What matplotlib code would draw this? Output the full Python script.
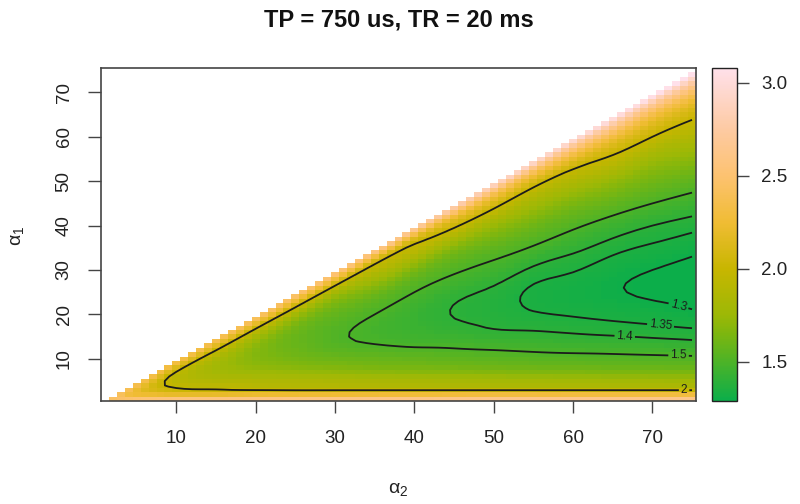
import numpy as np
import matplotlib
matplotlib.use('Agg')
import matplotlib.pyplot as plt
from matplotlib.colors import LinearSegmentedColormap

plt.rcParams['font.family'] = ['Liberation Sans', 'DejaVu Sans']

title = 'TP = 750 us, TR = 20 ms'
x_label = r'$\mathregular{\alpha_2}$'
y_label = r'$\mathregular{\alpha_1}$'

# Values.
# Each column alpha2 lists values at the alpha1 rows that are < alpha2 - 3,
# then gap3 holds the value at alpha1 = alpha2 - 3 and gap1 at alpha1 = alpha2 - 1.
alpha1_rows = [1, 2, 3, 5, 7, 10, 13, 16, 20, 25, 30, 35, 40, 45, 50, 55, 60, 65, 70]
alpha2_cols = [2, 5, 10, 15, 20, 25, 30, 35, 40, 45, 50, 55, 60, 65, 70, 75]

col_02 = []
col_05 = [2.50]
col_10 = [2.55, 2.20, 2.03, 1.93]
col_15 = [2.56, 2.20, 2.01, 1.87, 1.80, 1.84]
col_20 = [2.57, 2.23, 1.99, 1.86, 1.76, 1.68, 1.70, 1.90]
col_25 = [2.58, 2.24, 1.98, 1.85, 1.74, 1.63, 1.59, 1.60, 1.80]
col_30 = [2.59, 2.25, 1.98, 1.84, 1.72, 1.60, 1.53, 1.52, 1.57, 1.82]
col_35 = [2.60, 2.26, 1.98, 1.83, 1.70, 1.585, 1.505, 1.475, 1.50, 1.62, 1.90]
col_40 = [2.60, 2.27, 1.98, 1.82, 1.69, 1.575, 1.49, 1.45, 1.44, 1.50, 1.65, 1.96]
col_45 = [2.61, 2.28, 1.98, 1.81, 1.68, 1.56, 1.485, 1.43, 1.397, 1.425, 1.52, 1.68, 2.04]
col_50 = [2.62, 2.29, 1.98, 1.80, 1.67, 1.55, 1.475, 1.41, 1.375, 1.383, 1.46, 1.56, 1.75, 2.10]
col_55 = [2.62, 2.29, 1.98, 1.795, 1.66, 1.54, 1.465, 1.405, 1.355, 1.342, 1.385, 1.49, 1.61, 1.80, 2.12]
col_60 = [2.62, 2.29, 1.98, 1.79, 1.655, 1.535, 1.455, 1.395, 1.345, 1.322, 1.355, 1.42, 1.52, 1.65, 1.86, 2.20]
col_65 = [2.62, 2.29, 1.98, 1.785, 1.65, 1.53, 1.45, 1.385, 1.335, 1.305, 1.32, 1.37, 1.45, 1.57, 1.73, 1.96, 2.30]
col_70 = [2.62, 2.29, 1.98, 1.78, 1.645, 1.525, 1.44, 1.375, 1.325, 1.292, 1.30, 1.34, 1.40, 1.50, 1.62, 1.77, 2.00, 2.35]
col_75 = [2.62, 2.29, 1.98, 1.78, 1.64, 1.52, 1.43, 1.365, 1.31, 1.282, 1.285, 1.315, 1.37, 1.45, 1.56, 1.70, 1.87, 2.05, 2.45]

gap3 = [None, 2.25, 1.99, 2.01, 2.03, 2.06, 2.08, 2.08, 2.12, 2.25, 2.35, 2.40, 2.50, 2.60, 2.65, 2.75]
gap1 = [2.45, 2.35, 2.30, 2.35, 2.40, 2.45, 2.50, 2.55, 2.65, 2.75, 2.85, 2.90, 2.95, 3.00, 3.05, 3.10]

columns = [col_02, col_05, col_10, col_15, col_20, col_25, col_30, col_35,
           col_40, col_45, col_50, col_55, col_60, col_65, col_70, col_75]

contour_levels = [1.3, 1.35, 1.4, 1.5, 2.0]
contour_texts = ['1.3', '1.35', '1.4', '1.5', '2']
cbar_ticks = [1.5, 2.0, 2.5, 3.0]
axis_ticks = [10, 20, 30, 40, 50, 60, 70]

# colour ramp (value -> colour)
ramp_vals = [1.29, 1.5, 1.65, 1.75, 2.0, 2.25, 2.5, 2.75, 3.08]
ramp_cols = ['#0cae4a', '#4db327', '#7db60f', '#9cb806', '#c8b600', '#f0bc34',
             '#fdc270', '#fdcaa2', '#ffe0ea']
vmin, vmax = ramp_vals[0], ramp_vals[-1]


def natural_spline(xk, yk, xq):
    xk = np.asarray(xk, float); yk = np.asarray(yk, float); xq = np.asarray(xq, float)
    n = len(xk)
    if n == 1:
        return np.full(xq.shape, yk[0])
    if n == 2:
        return yk[0] + (yk[1] - yk[0]) * (xq - xk[0]) / (xk[1] - xk[0])
    h = np.diff(xk)
    A = np.zeros((n, n)); r = np.zeros(n)
    A[0, 0] = 1.0; A[-1, -1] = 1.0
    for i in range(1, n - 1):
        A[i, i - 1] = h[i - 1]
        A[i, i] = 2 * (h[i - 1] + h[i])
        A[i, i + 1] = h[i]
        r[i] = 6 * ((yk[i + 1] - yk[i]) / h[i] - (yk[i] - yk[i - 1]) / h[i - 1])
    M = np.linalg.solve(A, r)
    idx = np.clip(np.searchsorted(xk, xq) - 1, 0, n - 2)
    x0 = xk[idx]; x1 = xk[idx + 1]; hh = x1 - x0
    a = (x1 - xq) / hh; b = (xq - x0) / hh
    return (a * yk[idx] + b * yk[idx + 1]
            + ((a ** 3 - a) * M[idx] + (b ** 3 - b) * M[idx + 1]) * hh ** 2 / 6)


# per-column knots
col_knots = []
for a2, vals, g3, g1 in zip(alpha2_cols, columns, gap3, gap1):
    rows = [r for r in alpha1_rows if r < a2 - 3]
    kx = rows[:len(vals)]
    ky = list(vals)
    if g3 is not None:
        kx.append(a2 - 3); ky.append(g3)
    kx.append(a2 - 1); ky.append(g1)
    col_knots.append((a2, kx, ky))

n = 75
centers = np.arange(1, n + 1, dtype=float)
Zfull = np.full((n, n), np.nan)
for A2 in range(2, n + 1):
    A1 = np.arange(1, A2, dtype=float)
    w = np.zeros_like(A1) if A2 == 2 else (A1 - 1) / (A2 - 2)
    stack = []
    for a2c, kx, ky in col_knots:
        q = 1 + w * max(a2c - 2, 0)
        stack.append(natural_spline(kx, ky, q))
    stack = np.array(stack)
    for j in range(len(A1)):
        Zfull[int(A1[j]) - 1, A2 - 1] = natural_spline(alpha2_cols, stack[:, j], [A2])[0]
Z = np.ma.masked_invalid(Zfull)

cmap = LinearSegmentedColormap.from_list(
    'ramp', [((v - vmin) / (vmax - vmin), c) for v, c in zip(ramp_vals, ramp_cols)])

# ---- figure -----------------------------------------------------------------
W, H = 800, 504
fig = plt.figure(figsize=(W / 100, H / 100), dpi=100)
ax = fig.add_axes([101 / W, 1 - 401 / H, (696 - 101) / W, (401 - 68) / H])
cax = fig.add_axes([712 / W, 1 - 401 / H, 25 / W, (401 - 68) / H])

edges = np.arange(0.5, n + 1.0, 1.0)
mesh = ax.pcolormesh(edges, edges, Z, cmap=cmap, vmin=vmin, vmax=vmax, shading='flat')

cs = ax.contour(centers, centers, Z, levels=contour_levels, colors='#1c1c1c', linewidths=1.3)
fmt = {lv: t for lv, t in zip(contour_levels, contour_texts)}
label_spots = [(73.3, 22.0), (71.0, 17.0), (66.5, 14.5), (73.3, 10.7), (74.0, 3.0)]
ax.clabel(cs, contour_levels, fmt=fmt, fontsize=8.5, inline=True, inline_spacing=2,
          manual=label_spots)

ax.set_xlim(0.5, 75.5)
ax.set_ylim(0.5, 75.5)
ax.set_xticks(axis_ticks)
ax.set_yticks(axis_ticks)
ax.set_yticklabels([str(t) for t in axis_ticks], rotation=90, va='center')
ax.tick_params(axis='x', direction='out', length=8.6, width=1, color='#444444',
               labelsize=13.5, pad=12.5, labelcolor='#222222')
ax.tick_params(axis='y', direction='out', length=9.4, width=1, color='#444444',
               labelsize=13.5, pad=11, labelcolor='#222222')
for s in ax.spines.values():
    s.set_color('#444444'); s.set_linewidth(1.2)

fig.text(399 / W, 1 - 20 / H, title, ha='center', va='center',
         fontsize=17, fontweight='bold', color='#111111')
fig.text(398.5 / W, 1 - 490 / H, x_label, ha='center', va='center', fontsize=14, color='#222222')
fig.text(17 / W, 1 - 236 / H, y_label, ha='center', va='center', fontsize=14,
         rotation=90, color='#222222')

cb = fig.colorbar(mesh, cax=cax, ticks=cbar_ticks)
cb.ax.set_yticklabels(['%.1f' % t for t in cbar_ticks])
cb.ax.tick_params(direction='out', length=8.6, width=1, labelsize=13.5, pad=9,
                  color='#444444', labelcolor='#222222')
cb.outline.set_edgecolor('#222222')
cb.outline.set_linewidth(1.0)

fig.savefig('out.png', dpi=100)
